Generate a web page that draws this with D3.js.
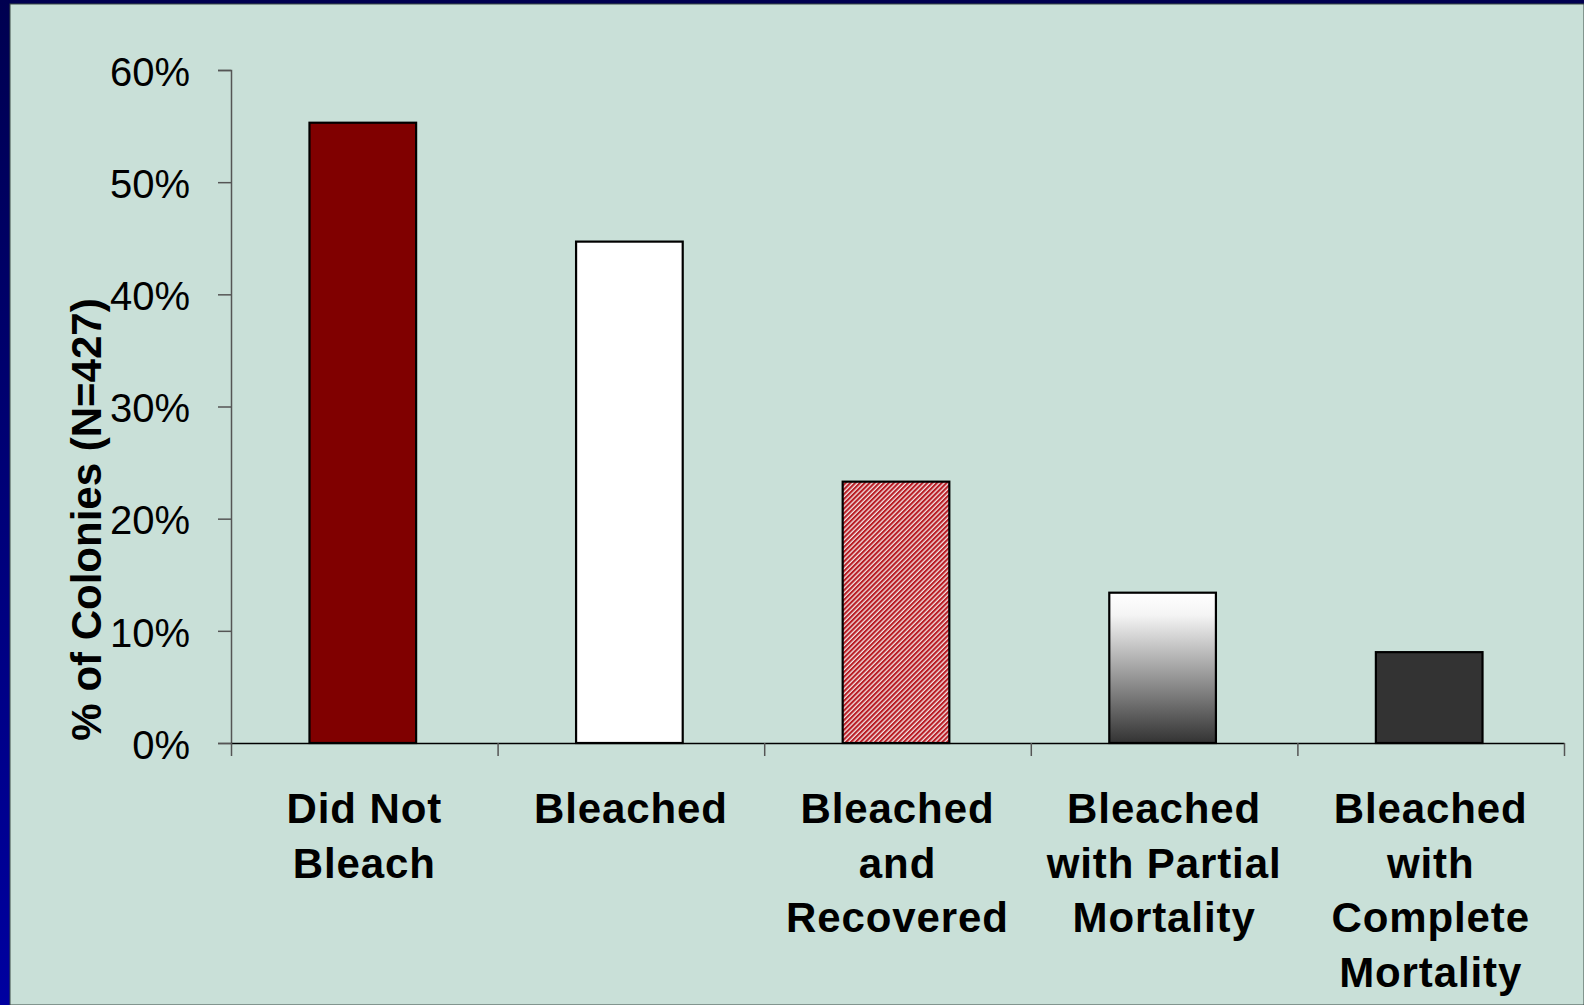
<!DOCTYPE html>
<html>
<head>
<meta charset="utf-8">
<script src="https://cdn.jsdelivr.net/npm/d3@7"></script>
<style>
  html, body { margin: 0; padding: 0; background: #000060; }
  svg { display: block; }
  text { font-family: "Liberation Sans", Arial, sans-serif; }
</style>
</head>
<body>
<svg id="chart" width="1584" height="1005"></svg>
<script>
// Coral colony bleaching outcomes, percent of colonies (N=427)
const categories = [
  ["Did Not", "Bleach"],
  ["Bleached"],
  ["Bleached", "and", "Recovered"],
  ["Bleached", "with Partial", "Mortality"],
  ["Bleached", "with", "Complete", "Mortality"]
];
const values = [55.3, 44.7, 23.3, 13.4, 8.1];
const yTicks = [0, 10, 20, 30, 40, 50, 60];
const yTitle = "% of Colonies (N=427)";

const W = 1584, H = 1005;
const svg = d3.select("#chart");
const defs = svg.append("defs");

// slide frame: dark blue edge with a gradient down the left side
const frameGrad = defs.append("linearGradient").attr("id", "frame")
  .attr("x1", 0).attr("y1", 0).attr("x2", 0).attr("y2", 1);
frameGrad.append("stop").attr("offset", 0).attr("stop-color", "#000050");
frameGrad.append("stop").attr("offset", 1).attr("stop-color", "#0000a0");
svg.append("rect").attr("width", W).attr("height", H).attr("fill", "url(#frame)");
svg.append("rect").attr("x", 10).attr("y", 4).attr("width", W - 10).attr("height", H - 4)
  .attr("fill", "#c9e0d8").attr("stroke", "#3a4a44").attr("stroke-width", 1);

// bar fills
const hatch = defs.append("pattern").attr("id", "hatch")
  .attr("patternUnits", "userSpaceOnUse").attr("width", 3.4).attr("height", 3.4)
  .attr("patternTransform", "rotate(45)");
hatch.append("rect").attr("width", 3.4).attr("height", 3.4).attr("fill", "#f4e4e4");
hatch.append("rect").attr("width", 2.1).attr("height", 3.4).attr("fill", "#b81c24");

const fade = defs.append("linearGradient").attr("id", "fade")
  .attr("x1", 0).attr("y1", 0).attr("x2", 0).attr("y2", 1);
fade.append("stop").attr("offset", 0).attr("stop-color", "#ffffff");
fade.append("stop").attr("offset", 0.15).attr("stop-color", "#f4f4f4");
fade.append("stop").attr("offset", 1).attr("stop-color", "#333333");

const fills = ["#800000", "#ffffff", "url(#hatch)", "url(#fade)", "#333333"];

const margin = { left: 231, right: 20, top: 70, bottom: 262 };
const x = d3.scaleBand().domain(d3.range(categories.length))
  .range([margin.left, W - margin.right]).paddingInner(0.6).paddingOuter(0.3);
const xEdge = d3.scaleLinear().domain([0, categories.length]).range([margin.left, W - margin.right]);
const y = d3.scaleLinear().domain([0, 60]).range([H - margin.bottom, margin.top]);

// y axis
const yAxis = svg.append("g").attr("transform", `translate(${margin.left},0)`)
  .call(d3.axisLeft(y).tickValues(yTicks).tickFormat(d => d + "%").tickSize(13).tickPadding(28));
yAxis.select(".domain").attr("stroke", "#555").attr("stroke-width", 1.5);
yAxis.selectAll(".tick line").attr("stroke", "#555").attr("stroke-width", 1.5);
yAxis.selectAll(".tick text").attr("font-size", 40).attr("fill", "#000")
  .attr("dy", "0.38em")
  .attr("font-family", "'Liberation Sans', Arial, sans-serif");

// bars
svg.append("g").selectAll("rect").data(values).join("rect")
  .attr("x", (d, i) => x(i) - 1.5)
  .attr("y", d => y(d))
  .attr("width", x.bandwidth())
  .attr("height", d => y(0) - y(d))
  .attr("fill", (d, i) => fills[i])
  .attr("stroke", "#000").attr("stroke-width", 2.2);

// x axis: baseline with ticks between categories
const xAxis = svg.append("g").attr("transform", `translate(0,${y(0)})`)
  .call(d3.axisBottom(xEdge).tickValues(d3.range(categories.length + 1)).tickFormat("").tickSize(13).tickSizeOuter(0));
xAxis.select(".domain").attr("stroke", "#000").attr("stroke-width", 1.5);
xAxis.selectAll(".tick line").attr("stroke", "#555").attr("stroke-width", 1.5);

// category labels
const labels = svg.append("g").selectAll("text").data(categories).join("text")
  .attr("text-anchor", "middle")
  .attr("font-size", 42).attr("font-weight", "bold").attr("fill", "#000")
  .attr("letter-spacing", 0.9)
  .attr("x", (d, i) => x(i) + x.bandwidth() / 2)
  .attr("y", 823);
labels.selectAll("tspan").data(d => d).join("tspan")
  .attr("x", function () { return d3.select(this.parentNode).attr("x"); })
  .attr("dy", (d, i) => i === 0 ? 0 : 54.5)
  .text(d => d);

// y axis title
svg.append("text")
  .attr("transform", `translate(101,${(y(0) + y(60)) / 2 + 113}) rotate(-90)`)
  .attr("text-anchor", "middle")
  .attr("font-size", 42).attr("font-weight", "bold").attr("fill", "#000")
  .text(yTitle);
</script>
</body>
</html>
